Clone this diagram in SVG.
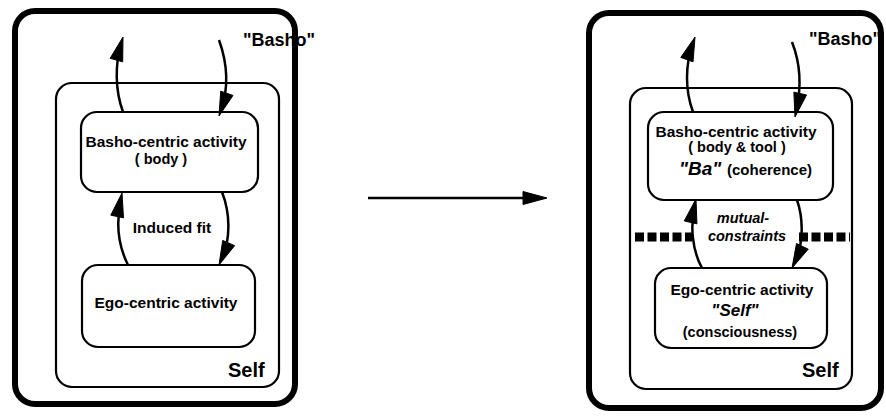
<svg xmlns="http://www.w3.org/2000/svg" width="886" height="419" viewBox="0 0 886 419">
<style>
.outer{fill:none;stroke:#000;stroke-width:6}
.box{fill:#fff;stroke:#000;stroke-width:2.2}
.self{fill:none;stroke:#000;stroke-width:2.2}
.arr{fill:none;stroke:#000;stroke-width:2.5}
.hd{fill:#000;stroke:#000;stroke-width:1;stroke-linejoin:round}
text{font-family:"Liberation Sans",Arial,sans-serif;font-weight:bold;fill:#000}
.t{font-size:15.5px;text-anchor:middle}
.s{font-size:14.5px;text-anchor:middle}
.big{font-size:18px}
.it{font-style:italic}
.dash{stroke:#000;stroke-width:9;stroke-dasharray:9 3.5}
</style>
<rect width="886" height="419" fill="#fff"/>

<g id="left-frame">
<rect class="outer" x="15" y="11" width="280" height="393" rx="20"/>
<text class="big" x="243" y="46">"Basho"</text>
</g>
<g id="left-self">
<rect class="self" x="56" y="83" width="223" height="304" rx="16"/>
<text class="big" x="228" y="377" style="font-size:20px">Self</text>
</g>
<g id="left-basho">
<rect class="box" x="81" y="112" width="177" height="80" rx="16"/>
<text class="t" x="166" y="147">Basho-centric activity</text>
<text class="s" x="161" y="164">( body )</text>
</g>
<g id="left-ego">
<rect class="box" x="82" y="265" width="173" height="82" rx="16"/>
<text class="t" x="166" y="308">Ego-centric activity</text>
</g>
<g id="left-label">
<text class="t" x="172" y="233">Induced fit</text>
</g>

<g id="right-frame">
<rect class="outer" x="589" y="13" width="292" height="395" rx="20"/>
<text class="big" x="809" y="45">"Basho"</text>
</g>
<g id="right-self">
<rect class="self" x="630" y="88" width="222" height="301" rx="16"/>
<text class="big" x="802" y="377" style="font-size:20px">Self</text>
</g>
<g id="right-basho">
<rect class="box" x="648" y="112" width="185" height="88" rx="16"/>
<text class="t" x="736" y="137">Basho-centric activity</text>
<text class="s" x="737" y="152">( body  &amp; tool )</text>
<text class="it" x="679" y="175" style="font-size:19px">"Ba"</text>
<text x="727" y="175" style="font-size:15px">(coherence)</text>
</g>
<g id="right-ego">
<rect class="box" x="655" y="268" width="172" height="80" rx="16"/>
<text class="t" x="742" y="295">Ego-centric activity</text>
<text class="it" x="735" y="316" style="font-size:17px;text-anchor:middle">"Self"</text>
<text class="s" x="740" y="337">(consciousness)</text>
</g>
<g id="right-label">
<line class="dash" x1="635" y1="237" x2="692" y2="237"/>
<line class="dash" x1="799" y1="237" x2="850" y2="237"/>
<text class="it" x="743" y="223" style="font-size:14.5px;text-anchor:middle">mutual-</text>
<text class="it" x="747" y="241" style="font-size:14.5px;text-anchor:middle">constraints</text>
</g>

<g id="connectors">
<path class="arr" d="M123,112 C115,90 115,65 121,44"/>
<polygon class="hd" points="123,37 122.66,61.86 110.16,58.29"/>
<path class="arr" d="M219,40 C228,65 228,90 221,110"/>
<polygon class="hd" points="219,116 220.71,91.19 232.99,95.45"/>
<path class="arr" d="M128,265 C118,245 116,222 121,200"/>
<polygon class="hd" points="122,193 123.50,217.82 110.77,215.18"/>
<path class="arr" d="M222,192 C231,215 230,240 222,259"/>
<polygon class="hd" points="219,265 222.72,240.41 234.62,245.65"/>
<path class="arr" d="M693,112 C685,90 685,65 693,44"/>
<polygon class="hd" points="695,37 693.03,61.79 680.79,57.41"/>
<path class="arr" d="M792,42 C801,65 801,90 796,111"/>
<polygon class="hd" points="795,117 793.85,92.16 806.54,94.98"/>
<path class="arr" d="M702,268 C692,250 690,225 695,206"/>
<polygon class="hd" points="696,199 696.93,223.85 684.27,220.93"/>
<path class="arr" d="M797,200 C804,220 803,245 795,262"/>
<polygon class="hd" points="792,268 796.51,243.55 808.23,249.17"/>
<path class="arr" d="M368,198 L540,198"/>
<polygon class="hd" points="547,198 523,191.5 523,204.5"/>
</g>
</svg>
